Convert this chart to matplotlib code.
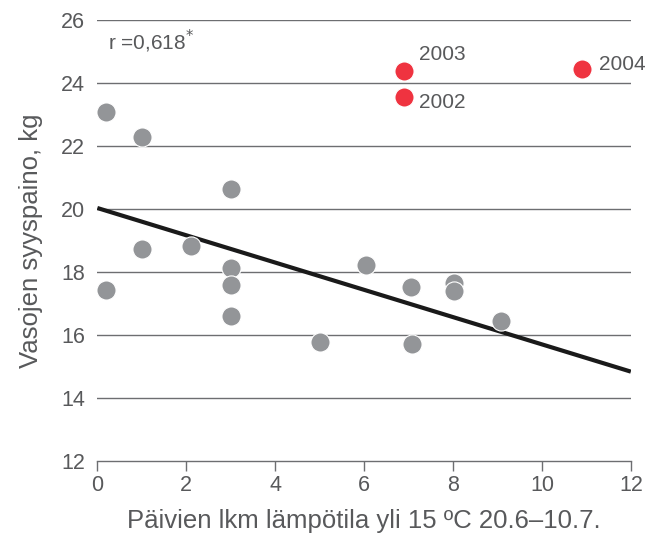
import matplotlib.pyplot as plt
import numpy as np

plt.rcParams['font.family'] = ['Liberation Sans', 'DejaVu Sans']

# Days with temperature over 15 C (x) and calf autumn weight (y)
x_gray = [0.2, 1.0, 0.2, 1.0, 2.1, 3.0, 3.0, 3.0, 3.0, 5.0, 6.05, 7.05, 7.07, 8.03, 8.03, 9.07]
y_gray = [23.08, 22.29, 17.43, 18.73, 18.83, 20.63, 18.13, 17.59, 16.6, 15.78, 18.22, 17.52, 15.71, 17.65, 17.40, 16.44]

# highlighted years
years = ['2003', '2002', '2004']
x_red = [6.9, 6.9, 10.9]
y_red = [24.38, 23.56, 24.44]

# regression line end points
line_x = [0, 12]
line_y = [20.03, 14.84]

grey_text = '#58595b'

fig = plt.figure(figsize=(6.49, 5.35), dpi=100)
ax = fig.add_axes([0.150, 0.138, 0.822, 0.825])

for y in range(14, 27, 2):
    ax.axhline(y, color='#6d6e71', linewidth=1.0, zorder=1)

ax.plot(line_x, line_y, color='#1a1a1a', linewidth=3, zorder=3, solid_capstyle='butt')
ax.scatter(x_gray, y_gray, s=190, color='#939598', edgecolor='white', linewidth=0.8, zorder=4)
ax.scatter(x_red, y_red, s=190, color='#ef3340', edgecolor='white', linewidth=0.8, zorder=4)

offsets = {'2003': (0.34, 0.51), '2002': (0.34, -0.19), '2004': (0.38, 0.13)}
for lab, xv, yv in zip(years, x_red, y_red):
    dx, dy = offsets[lab]
    ax.text(xv + dx, yv + dy, lab, fontsize=15, color=grey_text, va='center', ha='left')

ax.text(0.23, 25.3, r'r =0,618$^{*}$', fontsize=15, color=grey_text, va='center')

ax.set_xlim(0, 12)
ax.set_ylim(12, 26)
ax.set_xticks(np.arange(0, 13, 2))
ax.set_yticks(np.arange(12, 27, 2))

for side in ['top', 'right', 'left']:
    ax.spines[side].set_visible(False)
ax.spines['bottom'].set_color('#6d6e71')
ax.spines['bottom'].set_linewidth(1.0)

ax.tick_params(axis='y', length=0, colors=grey_text, labelsize=15.5, pad=9)
# downward ticks on the x axis
ax.tick_params(axis='x', direction='out', length=7, width=1.0, color='#6d6e71',
               labelcolor=grey_text, labelsize=15.5, pad=3)

ax.set_xlabel('Päivien lkm lämpötila yli 15 ºC 20.6–10.7.', fontsize=18.5, color=grey_text, va='center')
ax.set_ylabel('Vasojen syyspaino, kg', fontsize=18.5, color=grey_text, va='center')
ax.xaxis.set_label_coords(0.5, -0.136)
ax.yaxis.set_label_coords(-0.125, 0.5)

fig.savefig('out.png', dpi=100)
